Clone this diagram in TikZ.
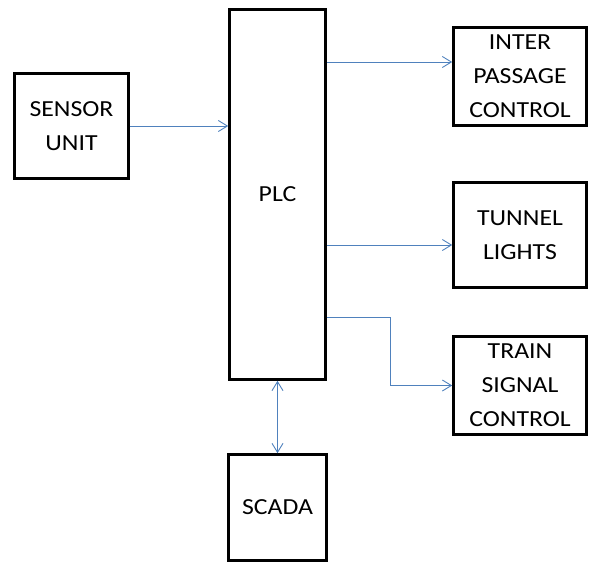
\documentclass[tikz,border=0pt]{standalone}
\usepackage{fontspec}
\setmainfont[FakeStretch=1.12]{Carlito}
\usetikzlibrary{arrows.meta}
\definecolor{linkblue}{RGB}{79,129,189}

\begin{document}
\begin{tikzpicture}[x=1pt,y=-1pt,
    font=\fontsize{23}{34}\selectfont,
    >={Straight Barb[length=9pt,width=11pt]},
    block/.style={draw,line width=2.6pt,align=center,inner sep=0pt},
    link/.style={draw=linkblue,line width=0.9pt,->}]
                \useasboundingbox (0,0) rectangle (591,565);
                \node[block,minimum width=114,minimum height=105] (sensor) at (71.5,126) {SENSOR\\UNIT};
                \node[block,minimum width=96,minimum height=370] (plc) at (277.5,194.5) {PLC};
                \node[block,minimum width=133,minimum height=98] (inter) at (520,76.5) {INTER\\PASSAGE\\CONTROL};
                \node[block,minimum width=133,minimum height=105] (tunnel) at (520,235) {TUNNEL\\LIGHTS};
                \node[block,minimum width=133,minimum height=98] (train) at (520,385.5) {TRAIN\\SIGNAL\\CONTROL};
                \node[block,minimum width=98,minimum height=106] (scada) at (277.5,507.5) {SCADA};
                \coordinate (interin) at ([yshift=14.5pt]inter.west);
                \coordinate (tunnelin) at ([yshift=-10pt]tunnel.west);
                \coordinate (trainbend) at (390,317);
                \draw[link] (sensor) -- (plc.west |- sensor);
                \draw[link] (plc.east |- interin) -- (interin);
                \draw[link] (plc.east |- tunnelin) -- (tunnelin);
                \draw[link] (plc.east |- trainbend) -- (trainbend) -- (trainbend |- train.west) -- (train.west);
                \draw[link,<->] (plc) -- (scada);
            \end{tikzpicture}
\end{document}
